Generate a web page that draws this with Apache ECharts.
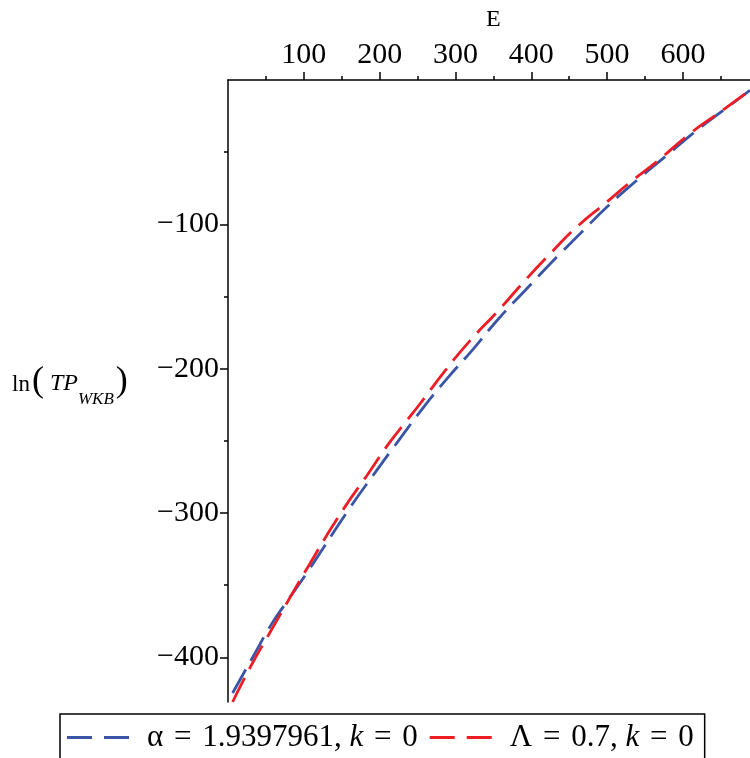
<!DOCTYPE html>
<html><head><meta charset="utf-8">
<script src="https://cdn.jsdelivr.net/npm/echarts@6/dist/echarts.min.js"></script>
<style>html,body{margin:0;padding:0;background:#fff}#c{width:750px;height:758px}</style>
</head><body><div id="c"></div>
<script>
// Data
const blueE = [6.1, 31.5, 57.8, 77.6, 106.2, 161.5, 194.5, 225.2, 258.1, 288.9, 324.0, 356.9, 392.1, 427.3, 464.6, 499.7, 539.3, 578.8, 618.3, 653.4, 688.5];
const blueV = [-424.8, -401.0, -376.7, -361.5, -339.8, -295.9, -271.7, -249.7, -226.6, -206.9, -186.1, -165.4, -145.7, -126.1, -106.4, -88.0, -69.5, -52.2, -34.9, -21.0, -7.1];
const redE = [6.1, 29.4, 55.7, 110.5, 152.7, 183.5, 212.0, 236.2, 253.8, 286.7, 319.6, 356.9, 389.9, 425.0, 462.3, 499.7, 528.2, 567.7, 609.5, 649.0, 688.5];
const redV = [-431.0, -406.8, -382.5, -332.9, -297.0, -273.9, -252.0, -235.8, -224.0, -201.2, -180.4, -159.6, -140.0, -120.3, -100.7, -84.5, -71.8, -55.6, -37.1, -22.2, -7.1];
const xMajor = [100, 200, 300, 400, 500, 600];
const xMinor = [50, 150, 250, 350, 450, 550, 650];
const yMajor = [-400, -300, -200, -100];
const yMinor = [-350, -250, -150, -50];
const seriesNames = ['α = 1.9397961, k = 0', 'Λ = 0.7, k = 0'];
const colors = ['#3A55A6', '#EE1D25'];

const FONT = 'Liberation Serif';
const chart = echarts.init(document.getElementById('c'));
const X = {min: 0, max: 688.5}, Y = {min: -431, max: 0};
const axisLineStyle = {color: '#000', width: 1.5};
const dashIcon = 'path://M0,0H25V3H0ZM37,0H62V3H37Z';
chart.setOption({
  animation: false,
  backgroundColor: '#fff',
  grid: {left: 228, top: 80, width: 522, height: 622, containLabel: false},
  xAxis: [
    {type: 'value', position: 'top', min: X.min, max: X.max,
     axisLine: {show: true, onZero: false, lineStyle: axisLineStyle},
     axisTick: {show: true, customValues: xMajor, length: 8, lineStyle: axisLineStyle},
     axisLabel: {show: true, customValues: xMajor, fontFamily: FONT, fontSize: 30, color: '#000', margin: 10},
     splitLine: {show: false}},
    {type: 'value', position: 'top', min: X.min, max: X.max,
     axisLine: {show: false, onZero: false},
     axisTick: {show: true, customValues: xMinor, length: 4, lineStyle: axisLineStyle},
     axisLabel: {show: false}, splitLine: {show: false}}
  ],
  yAxis: [
    {type: 'value', position: 'left', min: Y.min, max: Y.max,
     axisLine: {show: true, onZero: false, lineStyle: axisLineStyle},
     axisTick: {show: true, customValues: yMajor, length: 8, lineStyle: axisLineStyle},
     axisLabel: {show: true, customValues: yMajor, fontFamily: FONT, fontSize: 30, color: '#000', margin: 9,
       formatter: v => '\u2212' + Math.abs(v)},
     splitLine: {show: false}},
    {type: 'value', position: 'left', min: Y.min, max: Y.max,
     axisLine: {show: false, onZero: false},
     axisTick: {show: true, customValues: yMinor, length: 4, lineStyle: axisLineStyle},
     axisLabel: {show: false}, splitLine: {show: false}}
  ],
  legend: {
    left: 60, top: 714, orient: 'horizontal',
    padding: [8, 11, 20, 7],
    borderColor: '#000', borderWidth: 1.5, borderRadius: 0,
    itemWidth: 62, itemHeight: 3, itemGap: 12,
    icon: dashIcon,
    textStyle: {fontFamily: FONT, fontSize: 31, color: '#000',
      rich: {f: {fontFamily: FONT, fontSize: 31, color: '#000', padding: [0, 0, 0, 13]},
             n: {fontFamily: FONT, fontSize: 31, color: '#000'},
             e: {fontFamily: FONT, fontSize: 31, color: '#000', padding: [0, 3, 0, 3]},
             i: {fontFamily: FONT, fontSize: 31, fontStyle: 'italic', color: '#000'}}},
    formatter: name => {
      const pieces = name.split(/(k|=)/);
      return pieces.map((p, idx) => {
        if (p === '') return '';
        if (p === 'k') return '{i|k}';
        if (p === '=') return '{e|=}';
        return (idx === 0 ? '{f|' : '{n|') + p + '}';
      }).join('');
    },
    data: seriesNames
  },
  graphic: [
    {type: 'text', left: 486, top: 8, style: {text: 'E', fontFamily: FONT, fontSize: 24, fill: '#000'}},
    {type: 'text', left: 12, top: 364, style: {
      text: '{n|ln}{p|(}{i|TP}{s|WKB}{p|)}',
      rich: {
        n: {fontFamily: FONT, fontSize: 23, fill: '#000', verticalAlign: 'bottom', padding: [0, 0, 4, 0]},
        p: {fontFamily: FONT, fontSize: 36, fill: '#000', verticalAlign: 'bottom', padding: [0, 2, 0, 2]},
        i: {fontFamily: FONT, fontSize: 24, fontStyle: 'italic', fill: '#000', verticalAlign: 'bottom', padding: [0, 0, 4, 4]},
        s: {fontFamily: FONT, fontSize: 17, fontStyle: 'italic', fill: '#000', padding: [0, 0, -8, 0], verticalAlign: 'bottom'}
      }}}
  ],
  series: [
    {name: seriesNames[0], type: 'line', smooth: true, showSymbol: false, symbol: 'none', xAxisIndex: 0, yAxisIndex: 0,
     data: blueE.map((e, i) => [e, blueV[i]]),
     lineStyle: {color: colors[0], width: 2.8, type: [27, 10]}, itemStyle: {color: colors[0]}},
    {name: seriesNames[1], type: 'line', smooth: true, showSymbol: false, symbol: 'none', xAxisIndex: 0, yAxisIndex: 0,
     data: redE.map((e, i) => [e, redV[i]]),
     lineStyle: {color: colors[1], width: 2.8, type: [27, 10]}, itemStyle: {color: colors[1]}}
  ]
});
</script></body></html>
